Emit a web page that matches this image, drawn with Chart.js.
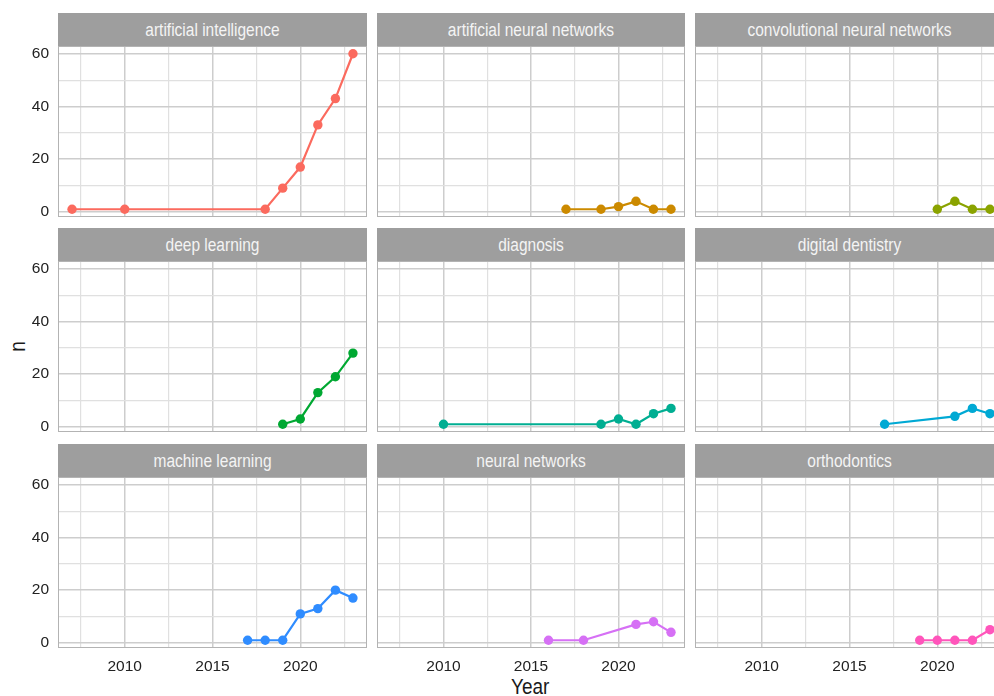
<!DOCTYPE html>
<html>
<head>
<meta charset="utf-8">
<script src="https://cdn.jsdelivr.net/npm/chart.js@4.4.1/dist/chart.umd.min.js"></script>
<style>
	body { margin: 0; width: 994px; height: 696px; overflow: hidden; background: #fff; position: relative;
		font-family: "Liberation Sans", Arial, sans-serif; }
	.strip { position: absolute; height: 33px; line-height: 33px; background: #9e9e9e; color: #f4f4f4;
		font-size: 15.5px; text-align: center; white-space: nowrap; }
	.strip span { display: inline-block; transform: scaleY(1.15); }
	.panel { position: absolute; }
	.title { position: absolute; color: #1a1a1a; font-size: 19px; line-height: 19px; }
</style>
</head>
<body>
<div class="title" id="xTitle" style="left:511px; top:677px; transform: scaleY(1.2);">Year</div>
<div class="title" id="yTitle" style="left:12px; top:337px; transform: rotate(-90deg) scaleY(1.2);">n</div>
<script>
const facets = ["artificial intelligence", "artificial neural networks", "convolutional neural networks",
	"deep learning", "diagnosis", "digital dentistry",
	"machine learning", "neural networks", "orthodontics"];
const facetColors = ["#fb6a5e", "#cc8a00", "#8aa300", "#00a832", "#00ae92", "#00a9d4", "#2f8cff", "#d670f5", "#ff55bb"];

const yearsAI = [2007, 2010, 2018, 2019, 2020, 2021, 2022, 2023];
const nAI = [1, 1, 1, 9, 17, 33, 43, 60];
const yearsANN = [2017, 2019, 2020, 2021, 2022, 2023];
const nANN = [1, 1, 2, 4, 1, 1];
const yearsCNN = [2020, 2021, 2022, 2023];
const nCNN = [1, 4, 1, 1];
const yearsDL = [2019, 2020, 2021, 2022, 2023];
const nDL = [1, 3, 13, 19, 28];
const yearsDiag = [2010, 2019, 2020, 2021, 2022, 2023];
const nDiag = [1, 1, 3, 1, 5, 7];
const yearsDD = [2017, 2021, 2022, 2023];
const nDD = [1, 4, 7, 5];
const yearsML = [2017, 2018, 2019, 2020, 2021, 2022, 2023];
const nML = [1, 1, 1, 11, 13, 20, 17];
const yearsNN = [2016, 2018, 2021, 2022, 2023];
const nNN = [1, 1, 7, 8, 4];
const yearsOrtho = [2019, 2020, 2021, 2022, 2023];
const nOrtho = [1, 1, 1, 1, 5];

const yearTicks = [2010, 2015, 2020];
const yearMinor = [2007.5, 2012.5, 2017.5, 2022.5];
const countTicks = [0, 20, 40, 60];
const countMinor = [10, 30, 50];

const series = [
	[yearsAI, nAI], [yearsANN, nANN], [yearsCNN, nCNN],
	[yearsDL, nDL], [yearsDiag, nDiag], [yearsDD, nDD],
	[yearsML, nML], [yearsNN, nNN], [yearsOrtho, nOrtho]
];

// layout of the 3x3 grid (last column runs past the window edge, like the original)
const colLeft = [58, 377, 695];
const colW = [309, 308, 309];
const rowTop = [13, 228, 444];
const stripH = 33;
const plotH = 171;
const yAxisW = 58;
const xAxisH = 40;

Chart.defaults.font.family = "'Liberation Sans', Arial, sans-serif";
Chart.defaults.font.size = 15.5;
Chart.defaults.color = "#222";

const panelBorder = {
	id: "panelBorder",
	afterDraw(chart) {
		const a = chart.chartArea, c = chart.ctx;
		c.save();
		c.strokeStyle = "#b3b3b3";
		c.lineWidth = 1;
		c.strokeRect(a.left + 0.5, a.top + 0.5, a.right - a.left - 1, a.bottom - a.top - 1);
		c.restore();
	}
};

// no extra padding from tick labels, so every panel keeps the same plot area
function noPad(s) {
	s.paddingTop = 0; s.paddingBottom = 0; s.paddingLeft = 0; s.paddingRight = 0;
}

facets.forEach((name, i) => {
	const r = Math.floor(i / 3), col = i % 3;
	const showY = col === 0, showX = r === 2;

	let strip = document.createElement("div");
	strip.className = "strip";
	let label = document.createElement("span");
	label.textContent = name;
	strip.appendChild(label);
	strip.style.left = colLeft[col] + "px";
	strip.style.top = rowTop[r] + "px";
	strip.style.width = colW[col] + "px";
	document.body.appendChild(strip);

	let cv = document.createElement("canvas");
	cv.className = "panel";
	let w = colW[col] + (showY ? yAxisW : 0);
	let h = plotH + (showX ? xAxisH : 0);
	cv.width = w; cv.height = h;
	cv.style.left = (showY ? colLeft[col] - yAxisW : colLeft[col]) + "px";
	cv.style.top = (rowTop[r] + stripH) + "px";
	document.body.appendChild(cv);

	const [xs, ys] = series[i];
	new Chart(cv, {
		type: "line",
		data: {
			datasets: [{
				label: name,
				data: xs.map((x, k) => ({ x: x, y: ys[k] })),
				borderColor: facetColors[i],
				backgroundColor: facetColors[i],
				pointBackgroundColor: facetColors[i],
				pointBorderWidth: 0,
				pointRadius: 4.7,
				borderWidth: 2.2,
				tension: 0
			}]
		},
		options: {
			responsive: false,
			animation: false,
			layout: { padding: 0, autoPadding: false },
			plugins: { legend: { display: false }, tooltip: { enabled: false } },
			scales: {
				x: {
					type: "linear",
					min: 2006.2,
					max: 2023.8,
					afterBuildTicks: s => { s.ticks = [...yearMinor, ...yearTicks].sort((a, b) => a - b).map(v => ({ value: v })); },
					afterFit: s => { s.height = showX ? xAxisH : 0; noPad(s); },
					border: { display: false },
					grid: {
						drawTicks: false,
						color: c => yearTicks.includes(c.tick.value) ? "#cdcdcd" : "#e0e0e0",
						lineWidth: c => yearTicks.includes(c.tick.value) ? 1.5 : 1.2
					},
					ticks: {
						display: showX,
						padding: 9,
						maxRotation: 0,
						autoSkip: false,
						callback: v => yearTicks.includes(v) ? String(v) : ""
					}
				},
				y: {
					min: -1.95,
					max: 62.95,
					afterBuildTicks: s => { s.ticks = [...countTicks, ...countMinor].sort((a, b) => a - b).map(v => ({ value: v })); },
					afterFit: s => { s.width = showY ? yAxisW : 0; noPad(s); },
					border: { display: false },
					grid: {
						drawTicks: false,
						color: c => countTicks.includes(c.tick.value) ? "#cdcdcd" : "#e0e0e0",
						lineWidth: c => countTicks.includes(c.tick.value) ? 1.5 : 1.2
					},
					ticks: {
						display: showY,
						padding: 9,
						autoSkip: false,
						callback: v => countTicks.includes(v) ? String(v) : ""
					}
				}
			}
		},
		plugins: [panelBorder]
	});
});
</script>
</body>
</html>
